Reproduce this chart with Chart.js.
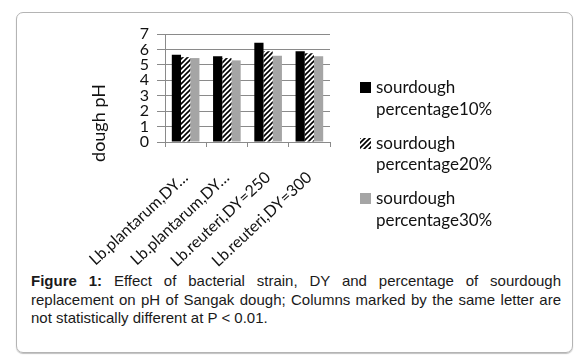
<!DOCTYPE html>
<html>
<head>
<meta charset="utf-8">
<script src="https://cdn.jsdelivr.net/npm/chart.js@4.4.1/dist/chart.umd.min.js"></script>
<style>
  body { margin: 0; background: #fff; }
  #frame {
    position: absolute; left: 16px; top: 12px; width: 557px; height: 341px;
    box-sizing: border-box; border: 1px solid #b4b4b4; border-radius: 7px;
    box-shadow: 0 1px 1px rgba(0,0,0,0.25);
  }
  #wrap { position: absolute; left: 0; top: 0; width: 583px; height: 272px; }
  #legend { position: absolute; left: 360px; top: 76px; font-family: Lato, sans-serif; font-size: 17px; color: #111; }
  .item { position: relative; padding-left: 16px; line-height: 21.5px; margin-bottom: 12.5px; }
  .sw { position: absolute; left: 0; top: 6px; width: 11px; height: 11px; }
  #caption {
    position: absolute; left: 31px; top: 272px; width: 530px;
    font-family: "Liberation Sans", Arial, sans-serif; font-size: 15px; line-height: 18.5px;
    text-align: justify; color: #1a1a1a;
  }
</style>
</head>
<body>
<div id="frame"></div>
<div id="wrap"><canvas id="phChart" width="583" height="272"></canvas></div>
<div id="legend"></div>
<div id="caption"><b>Figure 1:</b> Effect of bacterial strain, DY and percentage of sourdough replacement on pH of Sangak dough; Columns marked by the same letter are not statistically different at P &lt; 0.01.</div>
<script>
// categories and values
const strains = ["Lb.plantarum,DY…", "Lb.plantarum,DY…", "Lb.reuteri,DY=250", "Lb.reuteri,DY=300"];
const series = ["sourdough percentage10%", "sourdough percentage20%", "sourdough percentage30%"];
const pct10 = [5.65, 5.55, 6.43, 5.89];
const pct20 = [5.50, 5.44, 5.89, 5.76];
const pct30 = [5.44, 5.29, 5.59, 5.55];
const yTicks = [0, 1, 2, 3, 4, 5, 6, 7];

// diagonal hatch for the middle series
function hatch() {
  var c = document.createElement('canvas');
  c.width = 5; c.height = 5;
  var g = c.getContext('2d');
  g.fillStyle = '#fff';
  g.fillRect(0, 0, 5, 5);
  g.strokeStyle = '#000';
  g.lineWidth = 1.6;
  g.beginPath();
  g.moveTo(-1, 6); g.lineTo(6, -1);
  g.moveTo(-1, 1); g.lineTo(1, -1);
  g.moveTo(4, 6); g.lineTo(6, 4);
  g.stroke();
  return c;
}

var ctx = document.getElementById('phChart').getContext('2d');
var hatchPattern = ctx.createPattern(hatch(), 'repeat');
var fills = ['#000000', hatchPattern, '#a5a5a5'];
var values = [pct10, pct20, pct30];

// y axis title, placed like the original (lower than the plot centre)
const yTitle = {
  id: 'yTitle',
  afterDraw(chart) {
    var c = chart.ctx;
    c.save();
    c.translate(99, 123);
    c.rotate(-Math.PI / 2);
    c.font = '18px Lato, sans-serif';
    c.fillStyle = '#111';
    c.textAlign = 'center';
    c.textBaseline = 'middle';
    c.fillText('dough pH', 0, 0);
    c.restore();
  }
};

var phChart = new Chart(ctx, {
  type: 'bar',
  data: {
    labels: strains,
    datasets: series.map(function(name, i) {
      return {
        label: name,
        data: values[i],
        backgroundColor: fills[i],
        borderWidth: 0,
        barPercentage: 1.0,
        categoryPercentage: 0.67
      };
    })
  },
  options: {
    responsive: false,
    animation: false,
    layout: { padding: { left: 0, right: 253, top: 34, bottom: 0 } },
    plugins: {
      legend: { display: false },
      tooltip: { enabled: false }
    },
    scales: {
      x: {
        grid: { display: true, offset: true, drawOnChartArea: false, tickLength: 5, color: '#8a8a8a' },
        border: { color: '#8a8a8a' },
        ticks: {
          autoSkip: false, maxRotation: 43, minRotation: 43, padding: 21,
          color: '#111', font: { family: 'Lato, sans-serif', size: 16 }
        },
        afterFit: function(scale) { scale.height = 130; }
      },
      y: {
        min: 0, max: 7,
        afterBuildTicks: function(scale) { scale.ticks = yTicks.map(function(v) { return { value: v }; }); },
        grid: { color: '#8a8a8a', tickLength: 8 },
        border: { color: '#8a8a8a' },
        ticks: { autoSkip: false, padding: 8, color: '#111', font: { family: 'Lato, sans-serif', size: 16 } },
        afterFit: function(scale) { scale.width = 165; }
      }
    }
  },
  plugins: [yTitle]
});

// legend as two-line entries, same as the figure
var legend = document.getElementById('legend');
series.forEach(function(name, i) {
  var item = document.createElement('div');
  item.className = 'item';
  var sw = document.createElement('canvas');
  sw.className = 'sw'; sw.width = 11; sw.height = 11;
  var g = sw.getContext('2d');
  g.fillStyle = i === 1 ? g.createPattern(hatch(), 'repeat') : fills[i];
  g.fillRect(0, 0, 11, 11);
  item.appendChild(sw);
  var words = name.split(' ');
  item.appendChild(document.createTextNode(words[0]));
  item.appendChild(document.createElement('br'));
  item.appendChild(document.createTextNode(words.slice(1).join(' ')));
  legend.appendChild(item);
});
</script>
</body>
</html>
